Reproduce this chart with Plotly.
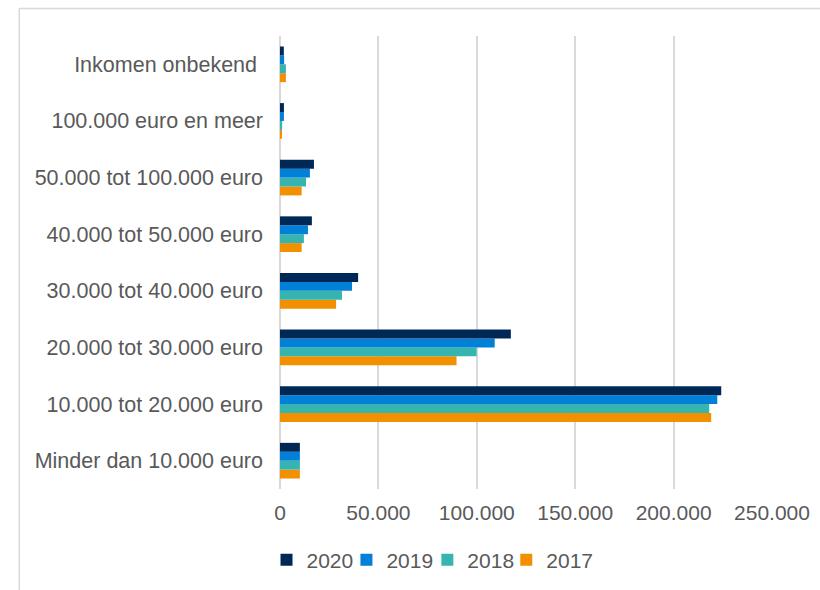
import plotly.graph_objects as go

categories = [
    "Minder dan 10.000 euro",
    "10.000 tot 20.000 euro",
    "20.000 tot 30.000 euro",
    "30.000 tot 40.000 euro",
    "40.000 tot 50.000 euro",
    "50.000 tot 100.000 euro",
    "100.000 euro en meer",
    "Inkomen onbekend\u00a0",
]
years = ["2017", "2018", "2019", "2020"]
v2017 = [10100, 219100, 89700, 28500, 11000, 11000, 900, 3000]
v2018 = [10100, 218100, 99900, 31500, 12150, 13200, 1100, 3000]
v2019 = [10100, 222200, 109100, 36600, 14200, 15200, 2000, 2100]
v2020 = [10100, 224200, 117300, 39700, 16200, 17250, 2000, 1950]
colors = {"2017": "#F39000", "2018": "#36B5B0", "2019": "#0080D6", "2020": "#002856"}
tickvals = [0, 50000, 100000, 150000, 200000, 250000]
ticktext = ["0", "50.000", "100.000", "150.000", "200.000", "250.000"]

series = {"2017": v2017, "2018": v2018, "2019": v2019, "2020": v2020}

W, H = 820, 590
L, R, T, B = 279.5, 772, 36, 489
leg_y = (B - 560) / (B - T)

# one legend per year, laid out left to right: 2020, 2019, 2018, 2017
legend_ids = {"2020": "legend", "2019": "legend2", "2018": "legend3", "2017": "legend4"}
legend_px = {"2020": 266, "2019": 346, "2018": 427, "2017": 506}

fig = go.Figure()
for y in years:
    fig.add_trace(go.Bar(
        y=categories, x=series[y], name=y, orientation="h",
        marker=dict(color=colors[y], line=dict(width=0)),
        legend=legend_ids[y],
    ))

legend_layout = {}
for y, lid in legend_ids.items():
    legend_layout[lid] = dict(
        orientation="h", x=(legend_px[y] - L) / (R - L), xanchor="left",
        y=leg_y, yanchor="middle", font=dict(size=21, color="#595959"),
        bgcolor="rgba(0,0,0,0)",
    )

fig.update_layout(
    width=W, height=H,
    margin=dict(l=L, r=W - R, t=T, b=H - B, autoexpand=False),
    barmode="group", bargap=0.37, bargroupgap=0,
    plot_bgcolor="white", paper_bgcolor="white",
    font=dict(family="Liberation Sans, Arial", size=21, color="#595959"),
    showlegend=True,
    xaxis=dict(range=[0, 250000], tickvals=tickvals, ticktext=ticktext,
               showgrid=True, gridcolor="#D9D9D9", gridwidth=2,
               zeroline=True, zerolinecolor="#D9D9D9", zerolinewidth=2,
               showline=False, ticks="", ticklabelstandoff=9, automargin=False),
    yaxis=dict(categoryorder="array", categoryarray=categories,
               tickfont=dict(size=21.5),
               showgrid=False, zeroline=False, showline=False,
               ticks="", ticklabelstandoff=16, automargin=False),
    **legend_layout,
)

# chart frame (left and top border)
def px2x(px):
    return (px - L) / (R - L)

def py2y(py):
    return (B - py) / (B - T)

fig.add_shape(type="line", xref="paper", yref="paper",
              x0=px2x(18.5), x1=px2x(830), y0=py2y(8.5), y1=py2y(8.5),
              line=dict(color="#D9D9D9", width=1.5))
fig.add_shape(type="line", xref="paper", yref="paper",
              x0=px2x(18.5), x1=px2x(18.5), y0=py2y(8.5), y1=py2y(600),
              line=dict(color="#D9D9D9", width=1.5))

fig.write_html("out.html", config={"displayModeBar": False},
               post_script="document.body.style.margin='0';document.body.style.overflow='hidden';")
